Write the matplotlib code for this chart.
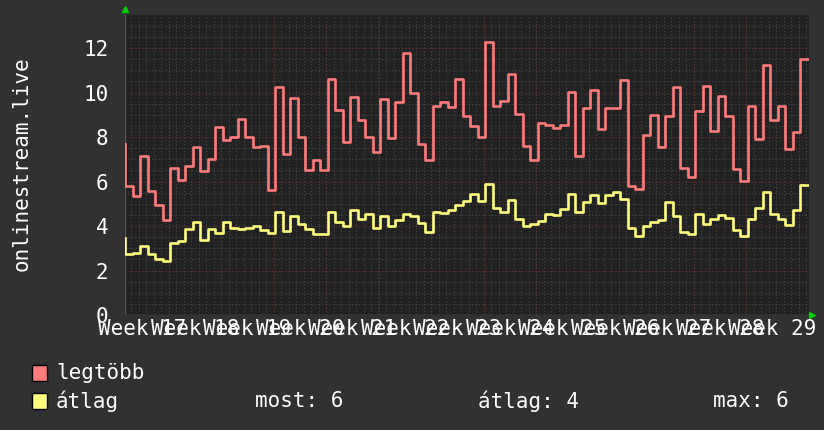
import numpy as np
import matplotlib.pyplot as plt

# daily values, 92 samples (first one is only the starting point of the step line)
legtobb = [7.7,
           5.82, 5.33, 7.13, 5.59, 4.93, 4.28, 6.61, 6.08, 6.68, 7.54, 6.49, 7.01, 8.44, 7.88, 7.99,
           8.81, 7.99, 7.54, 7.58, 5.63, 10.24, 7.25, 9.76, 7.99, 6.53, 6.98, 6.53, 10.62, 9.22, 7.79,
           9.79, 8.77, 7.99, 7.31, 9.70, 7.94, 9.58, 11.77, 9.98, 7.67, 6.98, 9.38, 9.56, 9.34, 10.62, 8.93,
           8.48, 7.99, 12.27, 9.38, 9.61, 10.84, 9.02, 7.58, 6.98, 8.62, 8.56, 8.39, 8.56, 10.01, 7.16,
           9.32, 10.10, 8.38, 9.32, 9.32, 10.56, 5.78, 5.68, 8.11, 8.98, 7.57, 8.96, 10.24, 6.61, 6.19,
           9.16, 10.29, 8.26, 9.83, 8.96, 6.56, 6.01, 9.38, 7.91, 11.23, 8.78, 9.38, 7.46, 8.21, 11.53]
atlag = [3.45,
         2.73, 2.78, 3.11, 2.73, 2.52, 2.43, 3.23, 3.33, 3.87, 4.16, 3.38, 3.86, 3.68, 4.16, 3.93,
         3.87, 3.90, 3.98, 3.83, 3.68, 4.61, 3.78, 4.43, 4.08, 3.86, 3.63, 3.63, 4.65, 4.17, 4.01,
         4.73, 4.32, 4.53, 3.93, 4.43, 3.98, 4.25, 4.53, 4.43, 4.13, 3.75, 4.61, 4.58, 4.73, 4.95, 5.11,
         5.45, 5.11, 5.90, 4.83, 4.65, 5.18, 4.31, 4.02, 4.08, 4.23, 4.55, 4.50, 4.77, 5.45, 4.61,
         5.06, 5.38, 5.03, 5.41, 5.51, 5.23, 3.93, 3.56, 3.98, 4.16, 4.25, 5.06, 4.43, 3.75, 3.63,
         4.55, 4.08, 4.32, 4.50, 4.35, 3.83, 3.56, 4.32, 4.80, 5.51, 4.55, 4.32, 4.05, 4.73, 5.86]
week_labels = ["Week %d" % w for w in range(17, 30)]
week_start = -1.2  # first monday, in days from the left edge
legend_stats = ["most: 6", "átlag: 4", "max: 6"]

bg = "#313131"
plot_bg = "#222222"
red = "#ff7b7b"
yellow = "#ffff7b"
font = "DejaVu Sans Mono"

W, H = 824, 430
fig = plt.figure(figsize=(W / 100, H / 100), dpi=100, facecolor=bg)
ax = fig.add_axes([125 / W, 115 / H, (809 - 125) / W, (315 - 14.7) / H])
ax.set_facecolor(plot_bg)

days = np.arange(len(legtobb))
ax.set_xlim(0, 91.2)
ax.set_ylim(0, 13.5)

# grid: minor per day / half unit, major per week / 2 units
for d in np.arange(week_start, 92, 1.0):
    if d > 0:
        ax.axvline(d, color="#484848", lw=0.8, ls=(0, (1, 2)), zorder=1)
for d in np.arange(week_start + 7, 92, 7.0):
    ax.axvline(d, color="#6e3434", lw=0.8, ls=(0, (1, 2)), zorder=1.5)
for v in np.arange(0.5, 13.5, 0.5):
    if v % 2 == 0:
        ax.axhline(v, color="#6e3434", lw=0.8, ls=(0, (1, 2)), zorder=1.5)
    else:
        ax.axhline(v, color="#484848", lw=0.8, ls=(0, (1, 2)), zorder=1)

ax.step(days, legtobb, where="pre", color=red, lw=1.9, zorder=3)
ax.step(days, atlag, where="pre", color=yellow, lw=1.9, zorder=3)

for s in ax.spines.values():
    s.set_visible(False)
ax.axhline(0, color="#555555", lw=1, zorder=2)
ax.axvline(0, color="#555555", lw=1, zorder=2)

ax.set_yticks(range(0, 13, 2))
ax.set_yticklabels([str(v) for v in range(0, 13, 2)])
ax.set_xticks(week_start + 3.5 + 7 * np.arange(len(week_labels)))
ax.set_xticklabels(week_labels)
ax.tick_params(axis="y", length=0, pad=12, labelsize=15, labelcolor="white")
ax.tick_params(axis="x", length=0, pad=3, labelsize=15, labelcolor="white")
for lab in ax.get_xticklabels() + ax.get_yticklabels():
    lab.set_family(font)

# green arrows
ax.plot([0], [13.75], marker="^", color="#00cc00", ms=5, clip_on=False, zorder=4)
ax.plot([91.6], [0], marker=">", color="#00cc00", ms=5, clip_on=False, zorder=4)

fig.text(22 / W, 1 - 164 / H, "onlinestream.live", rotation=90, color="white",
         fontsize=15, family=font, ha="center", va="center")

# legend
for i, (name, col) in enumerate([("legtöbb", red), ("átlag", yellow)]):
    y = 373 + 28 * i
    fig.patches.append(plt.Rectangle((32 / W, 1 - (y + 8) / H), 15 / W, 16 / H,
                                     transform=fig.transFigure, facecolor=col,
                                     edgecolor="black", lw=1))
    fig.text(56 / W, 1 - y / H, name, color="white", fontsize=15, family=font,
             ha="left", va="center")
for x, s in zip([255, 478, 713], legend_stats):
    fig.text(x / W, 1 - 401 / H, s, color="white", fontsize=15, family=font,
             ha="left", va="center")

fig.savefig("out.png", dpi=100, facecolor=bg)
